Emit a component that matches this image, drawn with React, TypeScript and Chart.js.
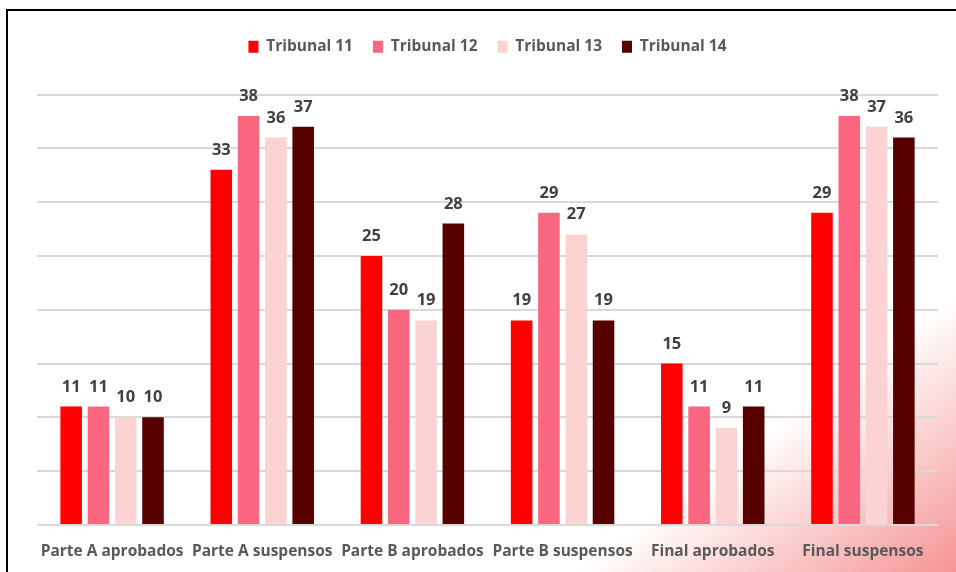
import React, { useEffect, useRef } from 'react';
import { Chart, registerables } from 'chart.js';

Chart.register(...registerables);

const categories = [
  'Parte A aprobados',
  'Parte A suspensos',
  'Parte B aprobados',
  'Parte B suspensos',
  'Final aprobados',
  'Final suspensos',
];
const seriesNames = ['Tribunal 11', 'Tribunal 12', 'Tribunal 13', 'Tribunal 14'];
const tribunal11 = [11, 33, 25, 19, 15, 29];
const tribunal12 = [11, 38, 20, 29, 11, 38];
const tribunal13 = [10, 36, 19, 27, 9, 37];
const tribunal14 = [10, 37, 28, 19, 11, 36];
const seriesColors = ['#ff0000', '#fb6680', '#fcd3d3', '#560000'];
const yMin = 0;
const yMax = 40;
const yStep = 5;

const FONT = '"Open Sans", sans-serif';

const valueLabels = {
  id: 'valueLabels',
  afterDatasetsDraw(chart: any) {
    const ctx = chart.ctx;
    ctx.save();
    ctx.font = `bold 16.5px ${FONT}`;
    ctx.fillStyle = '#404040';
    ctx.textAlign = 'center';
    ctx.textBaseline = 'alphabetic';
    chart.data.datasets.forEach((ds: any, i: number) => {
      const meta = chart.getDatasetMeta(i);
      meta.data.forEach((el: any, j: number) => {
        ctx.fillText(String(ds.data[j]), el.x, el.y - 15);
      });
    });
    ctx.restore();
  },
};

const legendSpacer = {
  id: 'legendSpacer',
  afterInit(chart: any) {
    const lg = chart.legend;
    if (lg && !lg.__patched) {
      const orig = lg.fit.bind(lg);
      lg.fit = function () {
        orig();
        this.height += 30;
      };
      lg.__patched = true;
    }
  },
};

export default function App() {
  const ref = useRef<HTMLCanvasElement | null>(null);
  useEffect(() => {
    document.body.style.margin = '0';
    if (!ref.current) return;
    const data = [tribunal11, tribunal12, tribunal13, tribunal14];
    const chart = new Chart(ref.current, {
      type: 'bar',
      data: {
        labels: categories,
        datasets: seriesNames.map((name, i) => ({
          label: name,
          data: data[i],
          backgroundColor: seriesColors[i],
          borderWidth: 0,
          categoryPercentage: 0.727,
          barPercentage: 0.79,
        })),
      },
      options: {
        animation: false,
        responsive: false,
        maintainAspectRatio: false,
        layout: { padding: { left: 37, right: 18, top: 19, bottom: -6.5 } },
        plugins: {
          legend: {
            position: 'top',
            align: 'center',
            labels: {
              boxWidth: 10,
              boxHeight: 12,
              padding: 20,
              color: '#595959',
              font: { family: FONT, size: 15.5, weight: 'bold' },
            },
          },
          tooltip: { enabled: false },
        },
        scales: {
          x: {
            grid: { display: false, drawTicks: false },
            border: { display: false },
            ticks: {
              padding: 17.5,
              color: '#595959',
              font: { family: FONT, size: 15.5, weight: 'bold' },
              maxRotation: 0,
              autoSkip: false,
            },
          },
          y: {
            min: yMin,
            max: yMax,
            grid: { color: '#d9d9d9', lineWidth: 2, drawTicks: false },
            border: { display: false },
            ticks: { display: false, stepSize: yStep },
          },
        },
      },
      plugins: [valueLabels, legendSpacer],
    });
    return () => chart.destroy();
  }, []);

  return (
    <div
      style={{
        position: 'fixed',
        left: 0,
        top: 0,
        width: 956,
        height: 572,
        overflow: 'hidden',
        background: 'linear-gradient(144deg, #ffffff 0%, #ffffff 78%, #f59494 100%)',
      }}
    >
      <div
        style={{
          position: 'absolute',
          left: 6,
          top: 9,
          width: 1200,
          height: 800,
          border: '2px solid #000',
        }}
      />
      <canvas ref={ref} width={956} height={572} style={{ position: 'absolute', left: 0, top: 0 }} />
    </div>
  );
}
